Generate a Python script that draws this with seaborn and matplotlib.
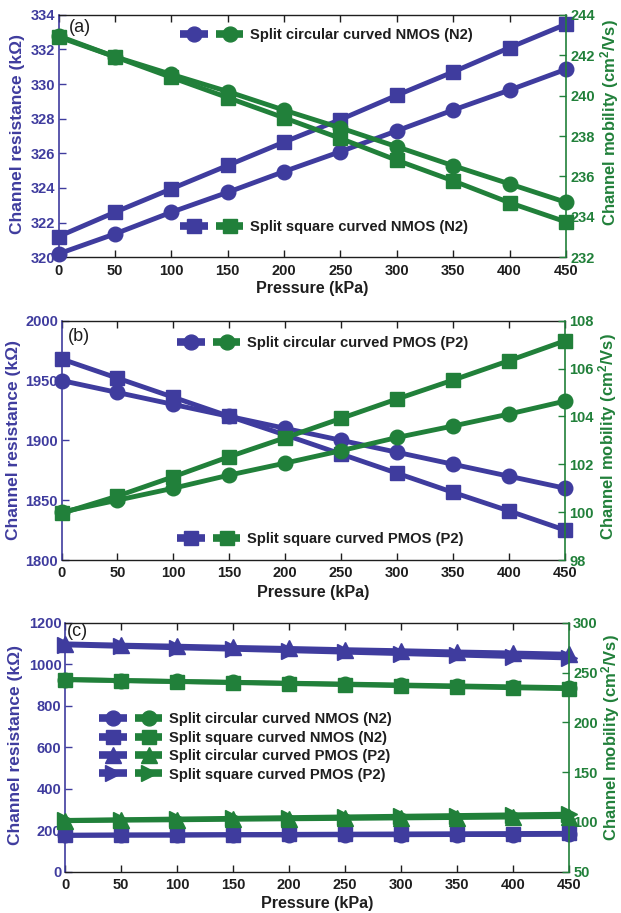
import matplotlib
matplotlib.use('Agg')
import matplotlib.pyplot as plt
import seaborn as sns
from matplotlib.legend_handler import HandlerTuple, HandlerLine2D
from matplotlib.lines import Line2D

# ---------------- data ----------------
pressure = [0, 50, 100, 150, 200, 250, 300, 350, 400, 450]

# (a) NMOS (N2)
a_res_circ = [320.2, 321.35, 322.6, 323.75, 324.95, 326.1, 327.3, 328.5, 329.65, 330.85]
a_res_sq = [321.2, 322.6, 323.95, 325.3, 326.65, 327.95, 329.35, 330.7, 332.1, 333.45]
a_mob_circ = [242.95, 241.92, 241.05, 240.2, 239.28, 238.4, 237.47, 236.53, 235.63, 234.72]
a_mob_sq = [242.9, 241.92, 240.9, 239.9, 238.9, 237.88, 236.8, 235.78, 234.7, 233.75]

# (b) PMOS (P2)
b_res_circ = [1950, 1940, 1930, 1920, 1910, 1900, 1890, 1880, 1870, 1860]
b_res_sq = [1968, 1952, 1936, 1920, 1904.5, 1888.5, 1872.5, 1856.5, 1841, 1825]
b_mob_circ = [100.0, 100.5, 101.0, 101.55, 102.05, 102.57, 103.12, 103.6, 104.1, 104.64]
b_mob_sq = [99.95, 100.67, 101.48, 102.32, 103.11, 103.92, 104.73, 105.52, 106.33, 107.16]

# (c) all four devices
c_res_ncirc = [175, 176, 176, 177, 177, 178, 178, 179, 179, 180]
c_res_nsq = [176, 177, 178, 179, 180, 181, 182, 183, 184, 185]
c_res_pcirc = [1098, 1092, 1087, 1081, 1076, 1070, 1065, 1059, 1054, 1048]
c_res_psq = [1093, 1086, 1079, 1072, 1065, 1058, 1051, 1044, 1037, 1030]
c_mob_ncirc = [242.95, 241.92, 241.05, 240.2, 239.28, 238.4, 237.47, 236.53, 235.63, 234.72]
c_mob_nsq = [242.9, 241.92, 240.9, 239.9, 238.9, 237.88, 236.8, 235.78, 234.7, 233.75]
c_mob_pcirc = [101.2, 101.7, 102.1, 102.6, 103.1, 103.5, 104.0, 104.4, 104.9, 105.4]
c_mob_psq = [101.5, 102.2, 102.9, 103.6, 104.3, 105.0, 105.7, 106.4, 107.1, 107.8]

lab_nc = 'Split circular curved NMOS (N2)'
lab_ns = 'Split square curved NMOS (N2)'
lab_pc = 'Split circular curved PMOS (P2)'
lab_ps = 'Split square curved PMOS (P2)'

xlabel = 'Pressure (kPa)'
ylabel_l = 'Channel resistance (kΩ)'
ylabel_r = r'Channel mobility (cm$^{\mathbf{2}}$/Vs)'

# ---------------- style ----------------
sns.set_style('ticks')
plt.rcParams['font.family'] = ['Liberation Sans', 'DejaVu Sans']
plt.rcParams['font.weight'] = 'bold'
plt.rcParams['mathtext.fontset'] = 'custom'
plt.rcParams['mathtext.rm'] = 'Liberation Sans:bold'
plt.rcParams['mathtext.bf'] = 'Liberation Sans:bold'
plt.rcParams['mathtext.it'] = 'Liberation Sans:bold'

BLUE = '#3F3C9E'
GREEN = '#21803A'
DARK = '#1E1E1E'

W, H = 621, 913
fig = plt.figure(figsize=(W / 100, H / 100), dpi=100)


def fx(px):
    return px / W


def fy(py):
    return 1 - py / H


def rect(l, t, r, b):
    return [l / W, 1 - b / H, (r - l) / W, (b - t) / H]


def draw_series(ax, vals, color, marker, ms, lw=3.5):
    sns.lineplot(x=pressure, y=vals, ax=ax, color=color, marker=marker,
                 markersize=ms, markeredgecolor=color, markeredgewidth=1,
                 linewidth=lw, clip_on=False, legend=False, zorder=3)
    return ax.lines[-1]


def style_axes(ax, ax2, ylim_l, yt_l, ylim_r, yt_r):
    ax.set_xlim(0, 450)
    ax.set_xticks(pressure)
    ax.set_ylim(*ylim_l)
    ax.set_yticks(yt_l)
    ax2.set_ylim(*ylim_r)
    ax2.set_yticks(yt_r)
    ax.tick_params(axis='x', colors=DARK, direction='in', top=True, bottom=True,
                   length=5, width=1.0, labelsize=10.5, pad=4.5)
    ax.tick_params(axis='y', colors=BLUE, direction='in', length=5, width=1.0,
                   labelsize=10.5, pad=2.5)
    ax2.tick_params(axis='y', colors=GREEN, direction='in', length=5, width=1.0,
                    labelsize=10.5, pad=3)
    for s in ['top', 'bottom']:
        ax.spines[s].set_color(DARK)
        ax.spines[s].set_linewidth(1.0)
    ax.spines['left'].set_color(BLUE)
    ax.spines['left'].set_linewidth(1.2)
    ax.spines['right'].set_visible(False)
    for s in ['left', 'top', 'bottom']:
        ax2.spines[s].set_visible(False)
    ax2.spines['right'].set_visible(True)
    ax2.spines['right'].set_color(GREEN)
    ax2.spines['right'].set_linewidth(1.2)
    for t in ax.get_xticklabels() + ax.get_yticklabels() + ax2.get_yticklabels():
        t.set_fontweight('bold')


def labels(ax, ax2, box, xl_y, yl_l, yl_r):
    l, t, r, b = box
    ax.set_xlabel(xlabel, fontsize=11.6, fontweight='bold', color=DARK)
    ax.xaxis.set_label_coords(fx((l + r) / 2), fy(xl_y), transform=fig.transFigure)
    ax.xaxis.label.set_va('center')
    ax.set_ylabel(ylabel_l, fontsize=12.5, fontweight='bold', color=BLUE)
    ax.yaxis.set_label_coords(fx(yl_l[0]), fy(yl_l[1]), transform=fig.transFigure)
    ax.yaxis.label.set_va('center')
    ax2.set_ylabel(ylabel_r, fontsize=12, fontweight='bold', color=GREEN)
    ax2.yaxis.set_label_coords(fx(yl_r[0]), fy(yl_r[1]), transform=fig.transFigure)
    ax2.yaxis.label.set_va('center')


def thick_handle(legline, orig):
    legline.update_from(orig)
    legline.set_markevery([1])
    legline.set_linewidth(5.5)
    legline.set_solid_capstyle('butt')
    legline.set_markersize(orig.get_markersize() * 1.02)


def add_legend(ax, pairs, labs, left_px, cy_px):
    leg = ax.legend(handles=[tuple(p) for p in pairs], labels=labs,
                    handler_map={tuple: HandlerTuple(ndivide=None, pad=0.55),
                                 Line2D: HandlerLine2D(update_func=thick_handle)},
                    loc='center left', bbox_to_anchor=(fx(left_px), fy(cy_px)),
                    bbox_transform=fig.transFigure, frameon=False, borderpad=0,
                    borderaxespad=0, handlelength=4.3, handletextpad=0.45,
                    labelspacing=0.3, numpoints=1,
                    prop={'weight': 'bold', 'size': 10.6})
    for t in leg.get_texts():
        t.set_color(DARK)
    return leg


# ---------------- panel (a) ----------------
box_a = (58.5, 14.7, 566, 257.3)
ax_a = fig.add_axes(rect(*box_a))
ax_a2 = ax_a.twinx()
la1 = draw_series(ax_a, a_res_circ, BLUE, 'o', 10.5)
la2 = draw_series(ax_a, a_res_sq, BLUE, 's', 10)
ga1 = draw_series(ax_a2, a_mob_circ, GREEN, 'o', 10.5)
ga2 = draw_series(ax_a2, a_mob_sq, GREEN, 's', 10)
style_axes(ax_a, ax_a2, (320, 334), range(320, 335, 2), (232, 244), range(232, 245, 2))
labels(ax_a, ax_a2, box_a, 289, (17.5, 134), (610, 123))
lg = add_legend(ax_a2, [(la1, ga1)], [lab_nc], 180, 35)
ax_a2.add_artist(lg)
add_legend(ax_a2, [(la2, ga2)], [lab_ns], 180, 227)
fig.text(fx(69), fy(27), '(a)', fontsize=13, fontweight='normal', color=DARK,
         ha='left', va='center')

# ---------------- panel (b) ----------------
box_b = (61.5, 320.7, 565, 560.0)
ax_b = fig.add_axes(rect(*box_b))
ax_b2 = ax_b.twinx()
lb1 = draw_series(ax_b, b_res_circ, BLUE, 'o', 10.5)
lb2 = draw_series(ax_b, b_res_sq, BLUE, 's', 10)
gb1 = draw_series(ax_b2, b_mob_circ, GREEN, 'o', 10.5)
gb2 = draw_series(ax_b2, b_mob_sq, GREEN, 's', 10)
style_axes(ax_b, ax_b2, (1800, 2000), range(1800, 2001, 50), (98, 108), range(98, 109, 2))
labels(ax_b, ax_b2, box_b, 593, (14, 440), (608, 437))
lg = add_legend(ax_b2, [(lb1, gb1)], [lab_pc], 177, 343)
ax_b2.add_artist(lg)
add_legend(ax_b2, [(lb2, gb2)], [lab_ps], 177, 539)
fig.text(fx(68), fy(336), '(b)', fontsize=13, fontweight='normal', color=DARK,
         ha='left', va='center')

# ---------------- panel (c) ----------------
box_c = (65, 622.7, 569, 871.7)
ax_c = fig.add_axes(rect(*box_c))
ax_c2 = ax_c.twinx()
lc1 = draw_series(ax_c, c_res_ncirc, BLUE, 'o', 10.5)
lc2 = draw_series(ax_c, c_res_nsq, BLUE, 's', 10)
lc3 = draw_series(ax_c, c_res_pcirc, BLUE, '^', 11.5)
lc4 = draw_series(ax_c, c_res_psq, BLUE, '>', 11.5)
gc1 = draw_series(ax_c2, c_mob_ncirc, GREEN, 'o', 10.5)
gc2 = draw_series(ax_c2, c_mob_nsq, GREEN, 's', 10)
gc3 = draw_series(ax_c2, c_mob_pcirc, GREEN, '^', 11.5)
gc4 = draw_series(ax_c2, c_mob_psq, GREEN, '>', 11.5)
style_axes(ax_c, ax_c2, (0, 1200), range(0, 1201, 200), (50, 300), range(50, 301, 50))
labels(ax_c, ax_c2, box_c, 903, (16, 745), (611, 738))
add_legend(ax_c2, [(lc1, gc1), (lc2, gc2), (lc3, gc3), (lc4, gc4)],
           [lab_nc, lab_ns, lab_pc, lab_ps], 99, 747)
fig.text(fx(67), fy(631), '(c)', fontsize=13, fontweight='normal', color=DARK,
         ha='left', va='center')

fig.savefig('out.png', dpi=100)
